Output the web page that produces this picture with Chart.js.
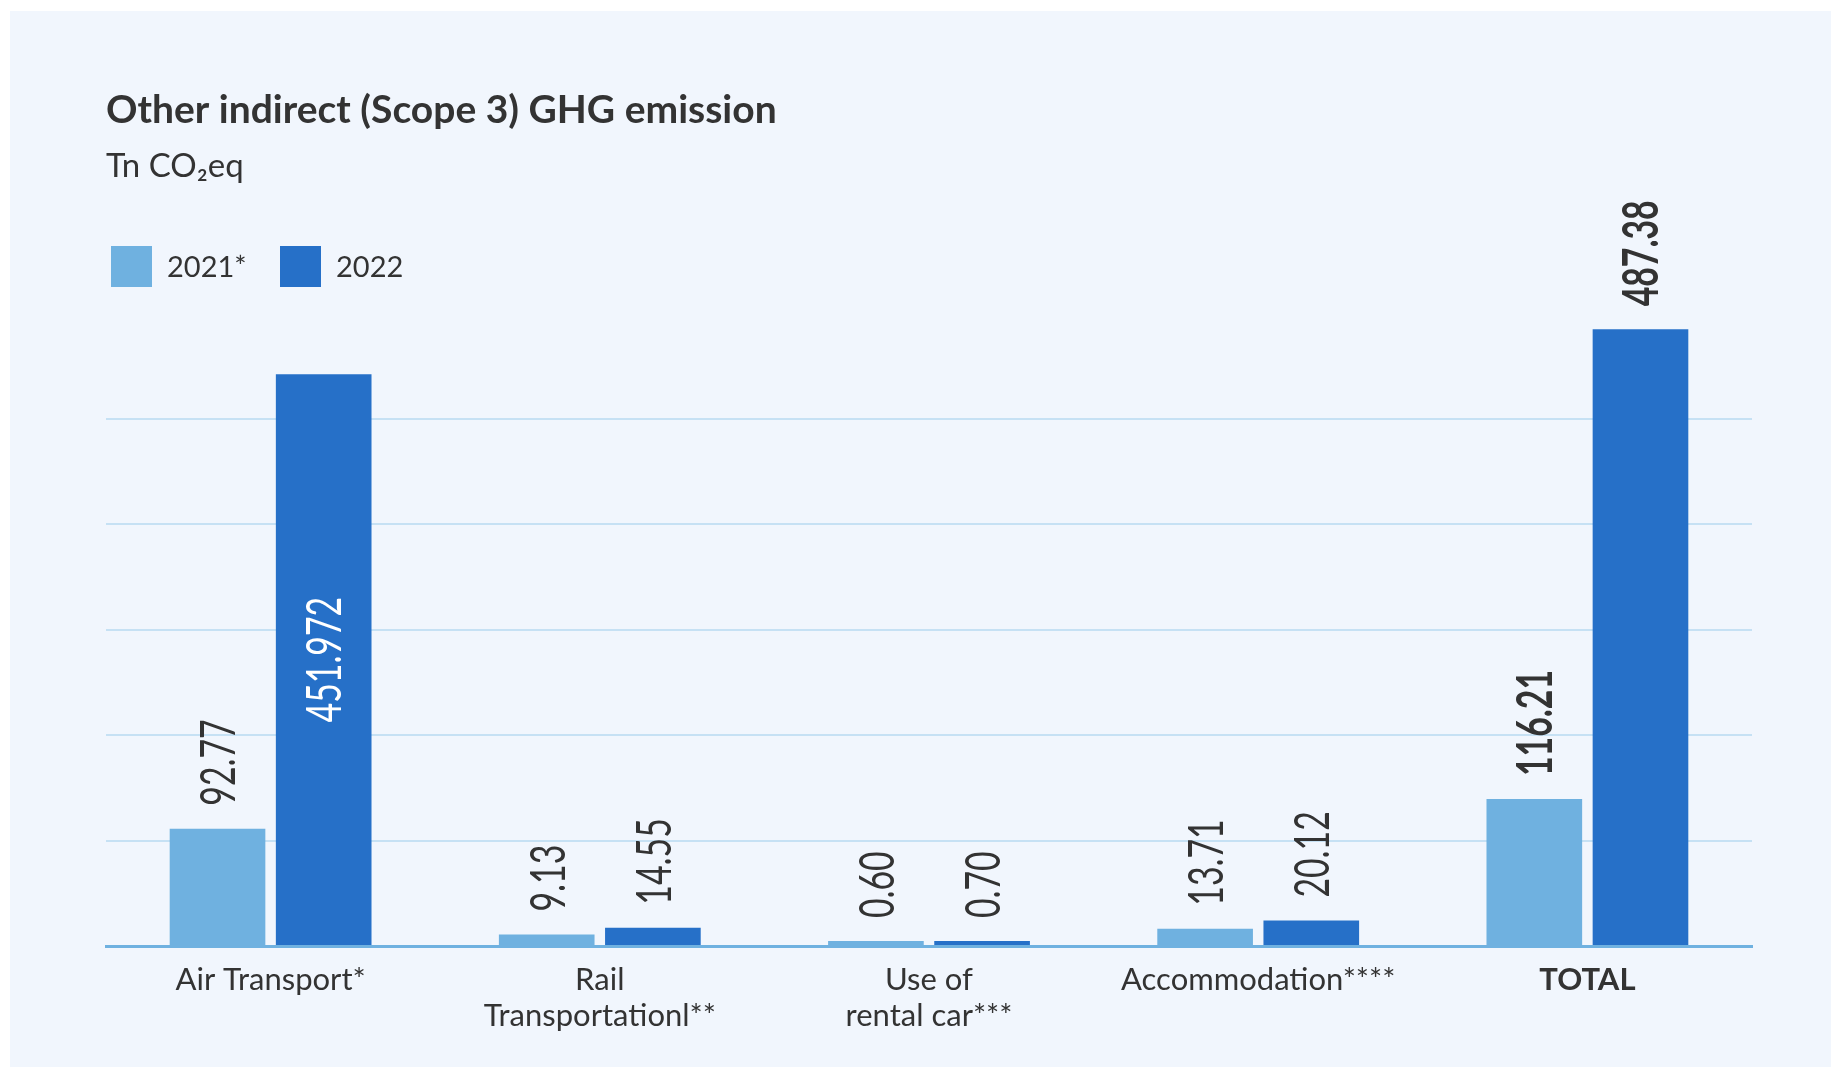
<!DOCTYPE html>
<html lang="en">
<head>
  <meta charset="UTF-8" />
  <title>Other indirect (Scope 3) GHG emission</title>
  <style>
    * {
      box-sizing: border-box;
      margin: 0;
      padding: 0;
    }

    body {
      background-color: #ffffff;
      width: 1831px;
      height: 1067px;
      overflow: hidden;
    }

    #panel {
      position: absolute;
      left: 10px;
      top: 11px;
      width: 1821px;
      height: 1056px;
      background-color: #f1f6fd;
    }
  </style>
</head>
<body>
  <div id="panel">
    <canvas id="ghgChart"></canvas>
  </div>

  <script src="https://cdn.jsdelivr.net/npm/chart.js"></script>
  <script>
    // data
    const categories = [
      'Air Transport*',
      ['Rail', 'Transportationl**'],
      ['Use of', 'rental car***'],
      'Accommodation****',
      'TOTAL'
    ];
    const seriesNames = ['2021*', '2022'];
    const values2021 = [92.77, 9.13, 0.60, 13.71, 116.21];
    const values2022 = [451.972, 14.55, 0.70, 20.12, 487.38];
    const yMax = 500;
    const gridSteps = 6;

    const family = "Lato, 'Liberation Sans', sans-serif";
    const textColor = '#333333';
    const totalIndex = categories.indexOf('TOTAL');

    Chart.defaults.font.family = family;
    Chart.defaults.color = textColor;

    // at least two decimals, more if the value has them
    function fmt(v) {
      const dec = (String(v).split('.')[1] || '').length;
      return v.toFixed(Math.max(2, dec));
    }

    // square legend placed under the subtitle
    const boxLegend = {
      id: 'boxLegend',
      beforeDatasetsDraw(chart) {
        const ctx = chart.ctx;
        const box = 41;
        const pitch = 169;
        const y = 235;
        ctx.save();
        ctx.font = '29px ' + family;
        ctx.textBaseline = 'middle';
        chart.data.datasets.forEach((ds, i) => {
          const x = 101 + i * pitch;
          ctx.fillStyle = ds.backgroundColor;
          ctx.fillRect(x, y, box, box);
          ctx.fillStyle = textColor;
          ctx.fillText(ds.label, x + box + 15, y + box / 2 + 1);
          chart.$legendBox = { right: x + box + 15 + ctx.measureText(ds.label).width, bottom: y + box };
        });
        ctx.restore();
      }
    };

    // rotated value labels, above the bar or inside it when the legend is in the way
    const valueLabels = {
      id: 'valueLabels',
      afterDatasetsDraw(chart) {
        const ctx = chart.ctx;
        const legend = chart.$legendBox || { right: 0, bottom: 0 };
        const gap = 23;
        const squeeze = 0.69;
        chart.data.datasets.forEach((ds, di) => {
          chart.getDatasetMeta(di).data.forEach((bar, i) => {
            const text = fmt(ds.data[i]);
            ctx.save();
            ctx.font = (i === totalIndex ? 'bold ' : '') + '49px ' + family;
            const w = ctx.measureText(text).width * squeeze;
            const inside = bar.y - gap - w < legend.bottom && bar.x - bar.width / 2 < legend.right;
            if (inside) {
              ctx.translate(bar.x, (bar.y + bar.base) / 2);
              ctx.textAlign = 'center';
              ctx.fillStyle = '#ffffff';
            } else {
              ctx.translate(bar.x, bar.y - gap);
              ctx.textAlign = 'left';
              ctx.fillStyle = textColor;
            }
            ctx.rotate(-Math.PI / 2);
            ctx.scale(squeeze, 1);
            ctx.textBaseline = 'middle';
            ctx.fillText(text, 0, 2);
            ctx.restore();
          });
        });
      }
    };

    const ctx = document.getElementById('ghgChart').getContext('2d');
    const ghgChart = new Chart(ctx, {
      type: 'bar',
      data: {
        labels: categories,
        datasets: [
          {
            label: seriesNames[0],
            data: values2021,
            backgroundColor: '#6fb1e0',
            borderWidth: 0,
            minBarLength: 5,
            categoryPercentage: 0.645,
            barPercentage: 0.901
          },
          {
            label: seriesNames[1],
            data: values2022,
            backgroundColor: '#2670c8',
            borderWidth: 0,
            minBarLength: 5,
            categoryPercentage: 0.645,
            barPercentage: 0.901
          }
        ]
      },
      options: {
        responsive: true,
        maintainAspectRatio: false,
        animation: false,
        layout: {
          padding: { left: 96, right: 79, top: 0, bottom: 17 }
        },
        plugins: {
          legend: { display: false },
          tooltip: { enabled: false },
          title: {
            display: true,
            text: 'Other indirect (Scope 3) GHG emission',
            align: 'start',
            color: textColor,
            font: { size: 39, weight: 'bold', lineHeight: 1.2 },
            padding: { top: 76, bottom: 0 }
          },
          subtitle: {
            display: true,
            text: 'Tn CO₂eq',
            align: 'start',
            color: textColor,
            font: { size: 33, lineHeight: 1.2 },
            padding: { top: 13, bottom: 127 }
          }
        },
        scales: {
          x: {
            grid: { display: false, drawTicks: false },
            border: { display: true, color: '#6fb1e0', width: 3 },
            ticks: {
              color: textColor,
              padding: 16,
              maxRotation: 0,
              autoSkip: false,
              font: (c) => ({
                size: 31,
                lineHeight: 1.16,
                weight: c.index === totalIndex ? 'bold' : 'normal'
              })
            }
          },
          y: {
            min: 0,
            max: yMax,
            afterBuildTicks: (scale) => {
              scale.ticks = Array.from({ length: gridSteps + 1 }, (_, i) => ({ value: i * yMax / gridSteps }));
            },
            ticks: { display: false },
            border: { display: false },
            grid: {
              drawTicks: false,
              lineWidth: 2,
              color: (c) => (c.tick.value > 0 && c.tick.value < yMax ? '#c6e1f4' : 'rgba(0,0,0,0)')
            }
          }
        }
      },
      plugins: [boxLegend, valueLabels]
    });
  </script>
</body>
</html>
